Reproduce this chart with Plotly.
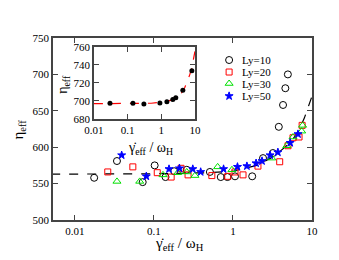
import plotly.graph_objects as go

# ---------------- data (main panel) ----------------
ly10_x = [0.0175, 0.034, 0.072, 0.102, 0.14, 0.18, 0.26, 0.51, 0.70, 0.85, 1.06, 1.75, 2.4, 3.2, 3.8, 4.3, 4.6, 4.95]
ly10_y = [558, 581, 552, 575, 559, 567, 569, 566, 559, 559, 560, 560, 585, 592, 628, 658, 681, 700]

ly20_x = [0.026, 0.054, 0.11, 0.165, 0.22, 0.27, 0.54, 0.86, 1.06, 1.34, 2.07, 3.9, 4.97, 5.75, 6.85, 7.5]
ly20_y = [566, 573, 565, 559, 571, 562, 561, 560, 566, 562, 574, 580, 602, 613, 614, 630]

ly30_x = [0.034, 0.066, 0.13, 0.20, 0.26, 0.33, 0.64, 0.97, 3.1, 4.8, 5.75, 7.4, 7.6]
ly30_y = [553, 553, 562, 565, 566, 561, 573, 569, 585, 602, 614, 622, 630]

ly50_x = [0.039, 0.08, 0.155, 0.21, 0.31, 0.39, 0.76, 1.14, 1.5, 1.96, 2.33, 2.95, 3.7, 5.3, 6.65]
ly50_y = [589, 560, 570, 571, 570, 566, 570, 573, 574, 578, 581, 589, 593, 606, 618]

fit_x = [0.005, 0.1, 0.5, 1, 2, 3, 4, 5, 6, 7, 8, 9, 10]
fit_y = [563, 563.5, 565, 567, 575, 585, 595, 604, 614, 626, 640, 655, 670]

# ---------------- data (inset) ----------------
ins_x = [0.03, 0.144, 0.305, 0.91, 1.47, 2.2, 2.7, 4.37, 8.1]
ins_y = [697.5, 697.5, 696.7, 697.8, 699, 701.6, 703.5, 712, 733.6]

ins_fit_x = [0.01, 0.1, 0.5, 1, 2, 3, 4, 5, 6, 7, 8, 9, 10]
ins_fit_y = [697, 697, 697.5, 698.5, 701, 704, 709, 715, 722, 729, 736, 745, 755]

legend_names = ["Ly=10", "Ly=20", "Ly=30", "Ly=50"]
x_ticks = [0.01, 0.1, 1, 10]
x_ticktext = ["0.01", "0.1", "1", "10"]

FONT = "Liberation Serif"
AX = "#444444"

# minor log tick positions (2..9 in each decade)
log_minor = [m * 10.0 ** e for e in range(-3, 1) for m in range(2, 10)]

fig = go.Figure()

fig.add_trace(go.Scatter(x=fit_x, y=fit_y, mode="lines",
                         line=dict(color="black", dash="dash", width=1.2),
                         showlegend=False, xaxis="x", yaxis="y"))

styles = [
    dict(symbol="circle-open", color="black", size=7),
    dict(symbol="square-open", color="#ff0000", size=6),
    dict(symbol="triangle-up-open", color="#00e000", size=7),
    dict(symbol="star", color="#0000ff", size=6),
]
series = [(ly10_x, ly10_y), (ly20_x, ly20_y), (ly30_x, ly30_y), (ly50_x, ly50_y)]
for (sx, sy), st in zip(series, styles):
    fig.add_trace(go.Scatter(x=sx, y=sy, mode="markers",
                             marker=dict(symbol=st["symbol"], color=st["color"], size=st["size"],
                                         line=dict(color=st["color"], width=1)),
                             showlegend=False, xaxis="x", yaxis="y"))

# inset
fig.add_trace(go.Scatter(x=ins_fit_x, y=ins_fit_y, mode="lines",
                         line=dict(color="#ff0000", dash="dash", width=1.2),
                         showlegend=False, xaxis="x2", yaxis="y2"))
fig.add_trace(go.Scatter(x=ins_x, y=ins_y, mode="markers",
                         marker=dict(symbol="circle", color="black", size=5),
                         showlegend=False, xaxis="x2", yaxis="y2"))

# manual legend (key markers on a hidden unit axis)
leg_rows = [0.879, 0.813, 0.750, 0.681]
for name, st, ry in zip(legend_names, styles, leg_rows):
    fig.add_trace(go.Scatter(x=[0.68], y=[ry], mode="markers",
                             marker=dict(symbol=st["symbol"], color=st["color"], size=st["size"],
                                         line=dict(color=st["color"], width=1)),
                             showlegend=False, xaxis="x3", yaxis="y3", hoverinfo="skip"))
    fig.add_annotation(x=0.722, y=ry, xref="paper", yref="paper", text=name,
                       showarrow=False, xanchor="left", yanchor="middle",
                       font=dict(family=FONT, size=11, color="black"))

common = dict(showline=True, linecolor=AX, linewidth=1.5, mirror="allticks",
              ticks="inside", tickcolor=AX, ticklen=5, tickwidth=1,
              showgrid=False, zeroline=False,
              tickfont=dict(family=FONT, size=11, color="black"))
minor_common = dict(showline=False, mirror="allticks", ticks="inside", tickcolor=AX,
                    ticklen=3, tickwidth=1, showgrid=False, zeroline=False,
                    showticklabels=False, fixedrange=True)

fig.update_layout(
    width=331, height=252,
    margin=dict(l=45, r=27, t=30, b=40),
    paper_bgcolor="white", plot_bgcolor="rgba(0,0,0,0)",
    showlegend=False,
    xaxis=dict(type="log", range=[-2.278, 1], domain=[0, 1], anchor="y",
               tickmode="array", tickvals=x_ticks, ticktext=x_ticktext, **common),
    yaxis=dict(range=[500, 750], domain=[0, 1], anchor="x", dtick=50, **common),
    xaxis2=dict(type="log", range=[-2, 1], domain=[0.158, 0.548], anchor="y2",
                tickmode="array", tickvals=x_ticks, ticktext=x_ticktext, **common),
    yaxis2=dict(range=[680, 760], domain=[0.555, 0.951], anchor="x2", dtick=20, **common),
    xaxis3=dict(range=[0, 1], domain=[0, 1], anchor="y3", visible=False, fixedrange=True),
    yaxis3=dict(range=[0, 1], domain=[0, 1], anchor="x3", visible=False, fixedrange=True),
    # minor tick overlays
    xaxis4=dict(type="log", range=[-2.278, 1], overlaying="x", anchor="y", side="bottom",
                tickmode="array", tickvals=log_minor, **minor_common),
    yaxis4=dict(range=[500, 750], overlaying="y", anchor="x", side="left",
                tick0=500, dtick=25, **minor_common),
    xaxis5=dict(type="log", range=[-2, 1], overlaying="x2", anchor="y2", side="bottom",
                tickmode="array", tickvals=log_minor, **minor_common),
    yaxis5=dict(range=[680, 760], overlaying="y2", anchor="x2", side="left",
                tick0=680, dtick=10, **minor_common),
)

# axis titles
title_font = dict(family=FONT, size=15, color="black")
fig.add_annotation(x=-0.175, y=0.495, xref="paper", yref="paper", showarrow=False,
                   text="η<sub>eff</sub>", textangle=-90, font=title_font)
fig.add_annotation(x=0.49, y=-0.19, xref="paper", yref="paper", showarrow=False,
                   text="γ\u0307<sub>eff</sub> / ω<sub>H</sub>", font=title_font)
ins_font = dict(family=FONT, size=14, color="black")
fig.add_annotation(x=-0.003, y=0.81, xref="paper", yref="paper", showarrow=False,
                   text="η<sub>eff</sub>", textangle=-90, font=ins_font)
fig.add_annotation(x=0.375, y=0.395, xref="paper", yref="paper", showarrow=False,
                   text="γ\u0307<sub>eff</sub> / ω<sub>H</sub>", font=ins_font)

fig.write_html("out.html")
